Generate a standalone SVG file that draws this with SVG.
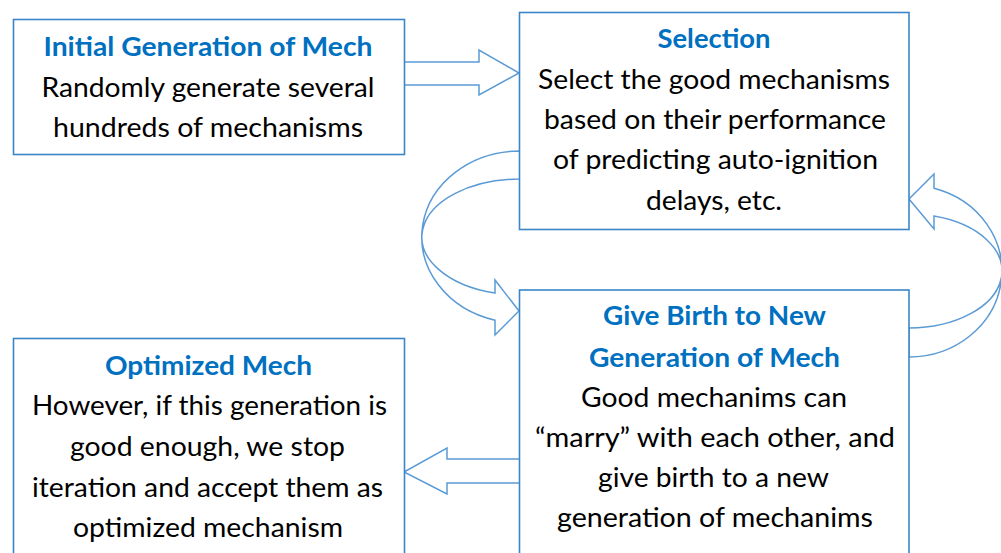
<svg xmlns="http://www.w3.org/2000/svg" width="1001" height="553" viewBox="0 0 1001 553">
<style>
.box{fill:#fff;stroke:#3A86C8;stroke-width:1.6}
.arr{fill:#fff;stroke:#5B9BD5;stroke-width:1.5;stroke-linejoin:miter}
text{font-family:Lato,"Open Sans","Liberation Sans",sans-serif;font-size:27px;text-anchor:middle}
.t{font-weight:bold;fill:#0070C0}
.b{fill:#000}
</style>
<rect width="1001" height="553" fill="#fff"/>
<g id="connectors">
<polygon class="arr" points="404,62 479,62 479,50 519,73 479,95 479,85 404,85"/>
<polygon class="arr" points="520,459 447,459 447,448 404,472 447,494 447,483 520,483"/>
<path class="arr" d="M520,151 A98 86 0 0 0 495,320.2 L495,335 L519,311 L495,280 L495,293.1 A98 58 0 0 1 520,179 Z"/>
<path class="arr" d="M909,357 A93 86 0 0 0 934,188.2 L934,174 L909,199 L934,229 L934,216.1 A93 57 0 0 1 909,328 Z"/>
</g>
<g id="node-initial">
<rect class="box" x="13.5" y="19.5" width="391" height="135"/>
<text class="t" x="208" y="56" textLength="329" lengthAdjust="spacingAndGlyphs">Initial Generation of Mech</text>
<text class="b" x="208" y="96.5" textLength="333" lengthAdjust="spacingAndGlyphs">Randomly generate several</text>
<text class="b" x="208" y="137" textLength="310" lengthAdjust="spacingAndGlyphs">hundreds of mechanisms</text>
</g>
<g id="node-selection">
<rect class="box" x="519.5" y="12.5" width="389.5" height="217"/>
<text class="t" x="714" y="48" textLength="113" lengthAdjust="spacingAndGlyphs">Selection</text>
<text class="b" x="714" y="89" textLength="352" lengthAdjust="spacingAndGlyphs">Select the good mechanisms</text>
<text class="b" x="715" y="129" textLength="342" lengthAdjust="spacingAndGlyphs">based on their performance</text>
<text class="b" x="715.5" y="169" textLength="325" lengthAdjust="spacingAndGlyphs">of predicting auto-ignition</text>
<text class="b" x="714" y="210" textLength="136" lengthAdjust="spacingAndGlyphs">delays, etc.</text>
</g>
<g id="node-birth">
<rect class="box" x="519.5" y="290" width="389.5" height="280"/>
<text class="t" x="714.5" y="325" textLength="223" lengthAdjust="spacingAndGlyphs">Give Birth to New</text>
<text class="t" x="714.5" y="367" textLength="251" lengthAdjust="spacingAndGlyphs">Generation of Mech</text>
<text class="b" x="714" y="407" textLength="266" lengthAdjust="spacingAndGlyphs">Good mechanims can</text>
<text class="b" x="715" y="447" textLength="360" lengthAdjust="spacingAndGlyphs">“marry” with each other, and</text>
<text class="b" x="713.5" y="487" textLength="231" lengthAdjust="spacingAndGlyphs">give birth to a new</text>
<text class="b" x="715" y="527" textLength="316" lengthAdjust="spacingAndGlyphs">generation of mechanims</text>
</g>
<g id="node-optimized">
<rect class="box" x="13.5" y="338.5" width="391" height="230"/>
<text class="t" x="208.5" y="375" textLength="207" lengthAdjust="spacingAndGlyphs">Optimized Mech</text>
<text class="b" x="209.5" y="415" textLength="355" lengthAdjust="spacingAndGlyphs">However, if this generation is</text>
<text class="b" x="207.5" y="456" textLength="275" lengthAdjust="spacingAndGlyphs">good enough, we stop</text>
<text class="b" x="207.5" y="497" textLength="351" lengthAdjust="spacingAndGlyphs">iteration and accept them as</text>
<text class="b" x="208" y="537" textLength="270" lengthAdjust="spacingAndGlyphs">optimized mechanism</text>
</g>
</svg>
